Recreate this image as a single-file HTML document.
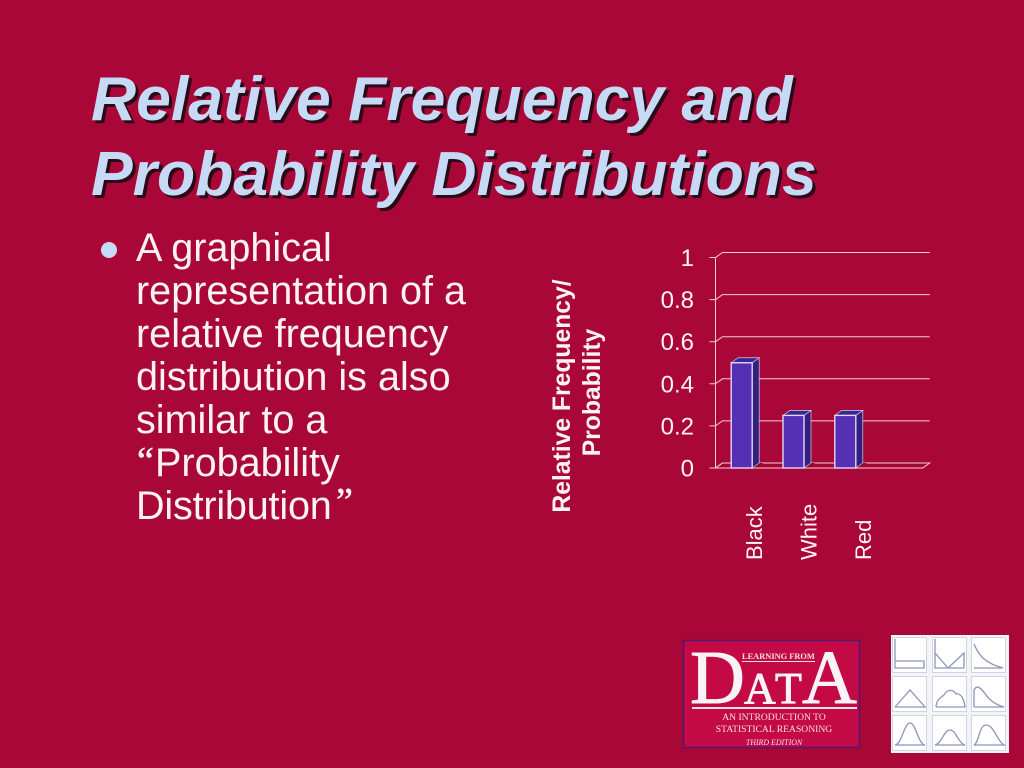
<!DOCTYPE html>
<html lang="en">
<head>
<meta charset="utf-8">
<title>Relative Frequency and Probability Distributions</title>
<style>
html,body{margin:0;padding:0;background:#a90737;width:1024px;height:768px;overflow:hidden}
svg{display:block}
text{font-family:"Liberation Sans",Arial,sans-serif}
.serif{font-family:"Liberation Serif","Times New Roman",serif}
.title{font-size:62.5px;font-weight:bold;font-style:italic}
.body-line{font-size:39.6px;fill:#fdf3f5}
.thumb-curve{fill:none;stroke:#8d94bc;stroke-width:1.3}
</style>
</head>
<body>
<svg id="slide-svg" width="1024" height="768" viewBox="0 0 1024 768" xmlns="http://www.w3.org/2000/svg">
  <rect width="1024" height="768" fill="#a90737"/>

  <g>
    <g fill="#2a0a18" transform="translate(3,3)">
      <text class="title" x="91" y="120">Relative Frequency and</text>
      <text class="title" x="91" y="195">Probability Distributions</text>
    </g>
    <g fill="#c6daf5">
      <text class="title" x="91" y="120">Relative Frequency and</text>
      <text class="title" x="91" y="195">Probability Distributions</text>
    </g>
  </g>

  <g>
    <circle cx="109" cy="250" r="8" fill="#c6daf5"/>
    <text class="body-line" x="136" y="261">A graphical</text>
    <text class="body-line" x="136" y="304">representation of a</text>
    <text class="body-line" x="136" y="347">relative frequency</text>
    <text class="body-line" x="136" y="390">distribution is also</text>
    <text class="body-line" x="136" y="433">similar to a</text>
    <text class="serif" x="137" y="473" font-size="38" fill="#fdf3f5" stroke="#fdf3f5" stroke-width="0.5">“</text>
    <text class="body-line" x="155" y="476">Probability</text>
    <text class="body-line" x="136" y="519" letter-spacing="-0.2">Distribution</text>
    <text class="serif" x="336" y="514" font-size="38" fill="#fdf3f5" stroke="#fdf3f5" stroke-width="0.5">”</text>
  </g>

  <g id="chart">
    <text x="570" y="396" transform="rotate(-90 570 396)" text-anchor="middle" font-size="24.7" font-weight="bold" fill="#fdf3f5">Relative Frequency/</text>
    <text x="600" y="392.5" transform="rotate(-90 600 392.5)" text-anchor="middle" font-size="24.7" font-weight="bold" fill="#fdf3f5">Probability</text>
  </g>

  <g>
    <rect x="683.5" y="640.5" width="176" height="107" fill="#c30a44" stroke="#4a1a70" stroke-width="1.5"/>
    <text class="serif" x="742" y="659" font-size="8.4" font-weight="bold" fill="#f8dde6">LEARNING FROM</text>
    <rect x="742" y="661" width="73" height="1" fill="#f8dde6"/>
    <g fill="#f9f2f6" stroke="#f9f2f6" stroke-width="0.9">
      <text class="serif" x="690" y="703" font-size="76">D</text>
      <text class="serif" x="744" y="703" font-size="44">A</text>
      <text class="serif" x="775" y="703" font-size="44">T</text>
      <text class="serif" x="802" y="703" font-size="76">A</text>
    </g>
    <rect x="692" y="707" width="165" height="2" fill="#f8dde6"/>
    <text class="serif" x="774" y="720" font-size="9.6" text-anchor="middle" fill="#f8dde6">AN INTRODUCTION TO</text>
    <text class="serif" x="774" y="732" font-size="9.6" text-anchor="middle" fill="#f8dde6">STATISTICAL REASONING</text>
    <text class="serif" x="774" y="745" font-size="7.9" font-style="italic" text-anchor="middle" fill="#f8dde6">THIRD EDITION</text>
  </g>

  <g>
    <rect x="891" y="635" width="118" height="118" fill="#f4f4f8"/>
    <g transform="translate(892,637)">
      <rect x=".5" y=".5" width="34" height="35" fill="#fff" stroke="#cfd3e2"/>
      <path class="thumb-curve" d="M3 2V31H32V24H3"/>
    </g>
    <g transform="translate(932,637)">
      <rect x=".5" y=".5" width="34" height="35" fill="#fff" stroke="#cfd3e2"/>
      <path class="thumb-curve" d="M3 2V31H32M3 16L16 31L32 16V31"/>
    </g>
    <g transform="translate(971,637)">
      <rect x=".5" y=".5" width="34" height="35" fill="#fff" stroke="#cfd3e2"/>
      <path class="thumb-curve" d="M3 7C8 19 14 26 32 31H3"/>
    </g>
    <g transform="translate(892,676)">
      <rect x=".5" y=".5" width="34" height="35" fill="#fff" stroke="#cfd3e2"/>
      <path class="thumb-curve" d="M3 31L18 14L33 31H3"/>
    </g>
    <g transform="translate(932,676)">
      <rect x=".5" y=".5" width="34" height="35" fill="#fff" stroke="#cfd3e2"/>
      <path class="thumb-curve" d="M4 31C5 22 9 22 12 19C15 13 21 13 24 18C29 17 32 23 33 31H4"/>
    </g>
    <g transform="translate(971,676)">
      <rect x=".5" y=".5" width="34" height="35" fill="#fff" stroke="#cfd3e2"/>
      <path class="thumb-curve" d="M3 31V14C6 8 10 12 15 19C20 26 26 29 33 31H3"/>
    </g>
    <g transform="translate(892,715)">
      <rect x=".5" y=".5" width="34" height="35" fill="#fff" stroke="#cfd3e2"/>
      <path class="thumb-curve" d="M3 30C10 29 12 8 18 8C24 8 26 29 33 30H3"/>
    </g>
    <g transform="translate(932,715)">
      <rect x=".5" y=".5" width="34" height="35" fill="#fff" stroke="#cfd3e2"/>
      <path class="thumb-curve" d="M3 30C10 28 12 15 18 15C24 15 26 28 33 30H3"/>
    </g>
    <g transform="translate(971,715)">
      <rect x=".5" y=".5" width="34" height="35" fill="#fff" stroke="#cfd3e2"/>
      <path class="thumb-curve" d="M3 30C8 28 8 10 15 10C23 10 26 26 33 30H3"/>
    </g>
  </g>
</svg>
<script>
const categories = ['Black', 'White', 'Red'];
const barValues = [0.5, 0.25, 0.25];
const yTickLabels = ['0', '0.2', '0.4', '0.6', '0.8', '1'];
const yTicks = [0, 0.2, 0.4, 0.6, 0.8, 1];

const plotLeft = 715.5, plotBottom = 468, plotTop = 257.5, bandWidth = 51.8;
const depthX = 7, depthY = 5, barWidth = 21;
function yScale(v) { return plotBottom - v * (plotBottom - plotTop); }
function xBand(i) { return plotLeft + bandWidth * i + (bandWidth - barWidth) / 2 + 0.3; }
function labelX(i) { return 762 + 54.5 * i; }

const svgNS = 'http://www.w3.org/2000/svg';
const chart = document.getElementById('chart');
function make(tag, attrs, text) {
  const el = document.createElementNS(svgNS, tag);
  for (const k in attrs) el.setAttribute(k, attrs[k]);
  if (text !== undefined) el.textContent = text;
  chart.appendChild(el);
  return el;
}
const lineColor = '#f3cdd6';
const plotRight = plotLeft + bandWidth * 4;

const floor = make('polygon', {points: [plotLeft, plotBottom, plotRight, plotBottom, plotRight + depthX, plotBottom - depthY, plotLeft + depthX, plotBottom - depthY].join(' '), fill: '#a00833', stroke: lineColor, 'stroke-width': 1});



const axis = make('line', {x1: plotLeft, x2: plotLeft, y1: yScale(1), y2: plotBottom, stroke: lineColor, 'stroke-width': 1});



yTicks.forEach(function (v, i) {
  const y = yScale(v);
  const tick = make('path', {d: 'M' + (plotLeft - 6) + ' ' + y + 'H' + plotLeft + 'L' + (plotLeft + depthX) + ' ' + (y - depthY) + (v > 0 ? 'H' + (plotRight + depthX) : ''), fill: 'none', stroke: lineColor, 'stroke-width': 1});
  
  
  const label = make('text', {x: 694, y: y + 8.5, 'text-anchor': 'end', 'font-size': 24, fill: '#fdf3f5'}, yTickLabels[i]);
  
  
});

barValues.forEach(function (v, i) {
  const x = xBand(i), top = yScale(v), right = x + barWidth;
  const shadow = make('polygon', {points: [right, plotBottom, right + depthX + 4, plotBottom - depthY, right + depthX, plotBottom - depthY].join(' '), fill: '#6f0a2c'});
  
  
  const side = make('polygon', {points: [right, top, right + depthX, top - depthY, right + depthX, plotBottom - depthY, right, plotBottom].join(' '), fill: '#32207f', stroke: '#d9c9ee', 'stroke-width': 0.7});
  
  
  const cap = make('polygon', {points: [x, top, x + depthX, top - depthY, right + depthX, top - depthY, right, top].join(' '), fill: '#3b2590', stroke: '#d9c9ee', 'stroke-width': 0.7});
  
  
  const front = make('rect', {x: x, y: top, width: barWidth, height: plotBottom - top, fill: '#5530b5', stroke: '#e2d6f5', 'stroke-width': 1.4});
  
  
  const lx = labelX(i);
  const label = make('text', {x: lx, y: 560, transform: 'rotate(-90 ' + lx + ' 560)', 'font-size': 22, fill: '#fdf3f5'}, categories[i]);
  
  
});
</script>
</body>
</html>
